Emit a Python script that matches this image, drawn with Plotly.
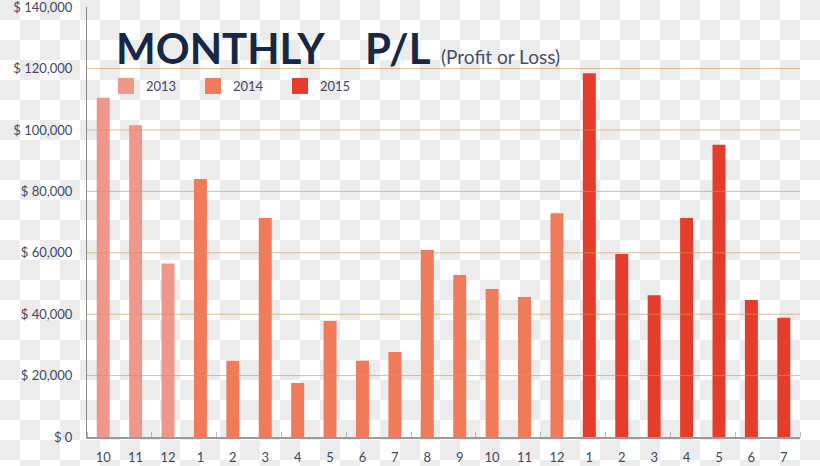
import plotly.graph_objects as go

# ---- data ----
months_2013 = ["10", "11", "12"]
values_2013 = [110500, 101500, 56500]
months_2014 = ["1", "2", "3", "4", "5", "6", "7", "8", "9", "10", "11", "12"]
values_2014 = [84000, 24800, 71300, 17600, 37800, 24800, 27700, 60900, 52800, 48200, 45600, 72900]
months_2015 = ["1", "2", "3", "4", "5", "6", "7"]
values_2015 = [118500, 59600, 46200, 71300, 95200, 44600, 38800]
y_ticks = [0, 20000, 40000, 60000, 80000, 100000, 120000, 140000]
y_tick_text = [f"$ {v:,}" for v in y_ticks]

W, H = 820, 466
ML, MR, MT, MB = 87, 20, 7, 29
PW, PH = W - ML - MR, H - MT - MB

series = [
    ("2013", months_2013, values_2013, "#f1968a"),
    ("2014", months_2014, values_2014, "#f07a5a"),
    ("2015", months_2015, values_2015, "#e63c2c"),
]

fig = go.Figure()
pos = 0
all_labels = []
for name, months, vals, col in series:
    xs = list(range(pos, pos + len(months)))
    pos += len(months)
    all_labels += months
    fig.add_trace(go.Bar(x=xs, y=vals, name=name, marker=dict(color=col, line=dict(width=0)),
                         width=0.4, showlegend=False))
    # legend proxy with a larger square symbol
    fig.add_trace(go.Scatter(x=[None], y=[None], mode="markers", name=name,
                             marker=dict(symbol="square", size=16, color=col)))

def px_x(p):
    return (p - ML) / PW

def px_y(p):
    return 1 - (p - MT) / PH

# checkerboard background (transparency pattern)
sq = 20
parts = []
for r in range((H // sq) + 1):
    for c in range((W // sq) + 1):
        if (r + c) % 2 == 0:
            x0, x1 = px_x(c * sq), px_x(min((c + 1) * sq, W))
            y0, y1 = px_y(r * sq), px_y(min((r + 1) * sq, H))
            parts.append(f"M{x0:.5f},{y0:.5f}H{x1:.5f}V{y1:.5f}H{x0:.5f}Z")
shapes = [dict(type="path", xref="paper", yref="paper", path="".join(parts),
               fillcolor="#ececec", line=dict(width=0), layer="below")]

# gridlines drawn above the bars
for v in y_ticks[1:-1]:
    shapes.append(dict(type="line", xref="paper", yref="y", x0=0, x1=1, y0=v, y1=v,
                       line=dict(color="rgba(196,156,96,0.65)", width=1), layer="above"))

fig.update_layout(
    width=W, height=H,
    margin=dict(l=ML, r=MR, t=MT, b=MB, pad=0, autoexpand=False),
    paper_bgcolor="white", plot_bgcolor="rgba(0,0,0,0)",
    barmode="overlay",
    shapes=shapes,
    font=dict(family="Lato, sans-serif", color="#3f4862", size=13),
    legend=dict(orientation="h", x=px_x(106), y=px_y(86), yanchor="middle", xanchor="left",
                bgcolor="rgba(0,0,0,0)", entrywidth=42, font=dict(size=13, color="#3f4862"),
                traceorder="normal", itemwidth=30),
    xaxis=dict(
        range=[-0.5, pos - 0.5], automargin=False,
        tickmode="array", tickvals=list(range(pos)), ticktext=all_labels,
        ticks="", showgrid=False, zeroline=False,
        showline=True, linecolor="#9a9a9a", linewidth=1.5,
        ticklabelstandoff=8, ticklabeloverflow="allow",
        minor=dict(ticks="inside", tick0=-0.5, dtick=2, ticklen=5, tickcolor="#b8b8b8",
                   tickwidth=1, showgrid=False),
        tickfont=dict(size=13, color="#3f4862"),
    ),
    yaxis=dict(
        range=[0, 140050], automargin=False,
        tickmode="array", tickvals=y_ticks, ticktext=y_tick_text,
        showgrid=False, zeroline=False,
        showline=True, linecolor="#8a8a8a", linewidth=1,
        ticks="", ticklabelstandoff=11, ticklabeloverflow="allow",
        tickfont=dict(size=13, color="#3f4862"),
    ),
    annotations=[
        dict(text="<b>MONTHLY</b>", xref="paper", yref="paper", x=px_x(114), y=px_y(48),
             xanchor="left", yanchor="middle", showarrow=False,
             font=dict(family="Lato, sans-serif", size=42, color="#172845")),
        dict(text="<b>P/L</b>", xref="paper", yref="paper", x=px_x(363), y=px_y(48),
             xanchor="left", yanchor="middle", showarrow=False,
             font=dict(family="Lato, sans-serif", size=42, color="#172845")),
        dict(text="(Profit or Loss)", xref="paper", yref="paper", x=px_x(439), y=px_y(56),
             xanchor="left", yanchor="middle", showarrow=False,
             font=dict(family="Lato, sans-serif", size=19, color="#46506a")),
    ],
)

fig.write_html("out.html")
